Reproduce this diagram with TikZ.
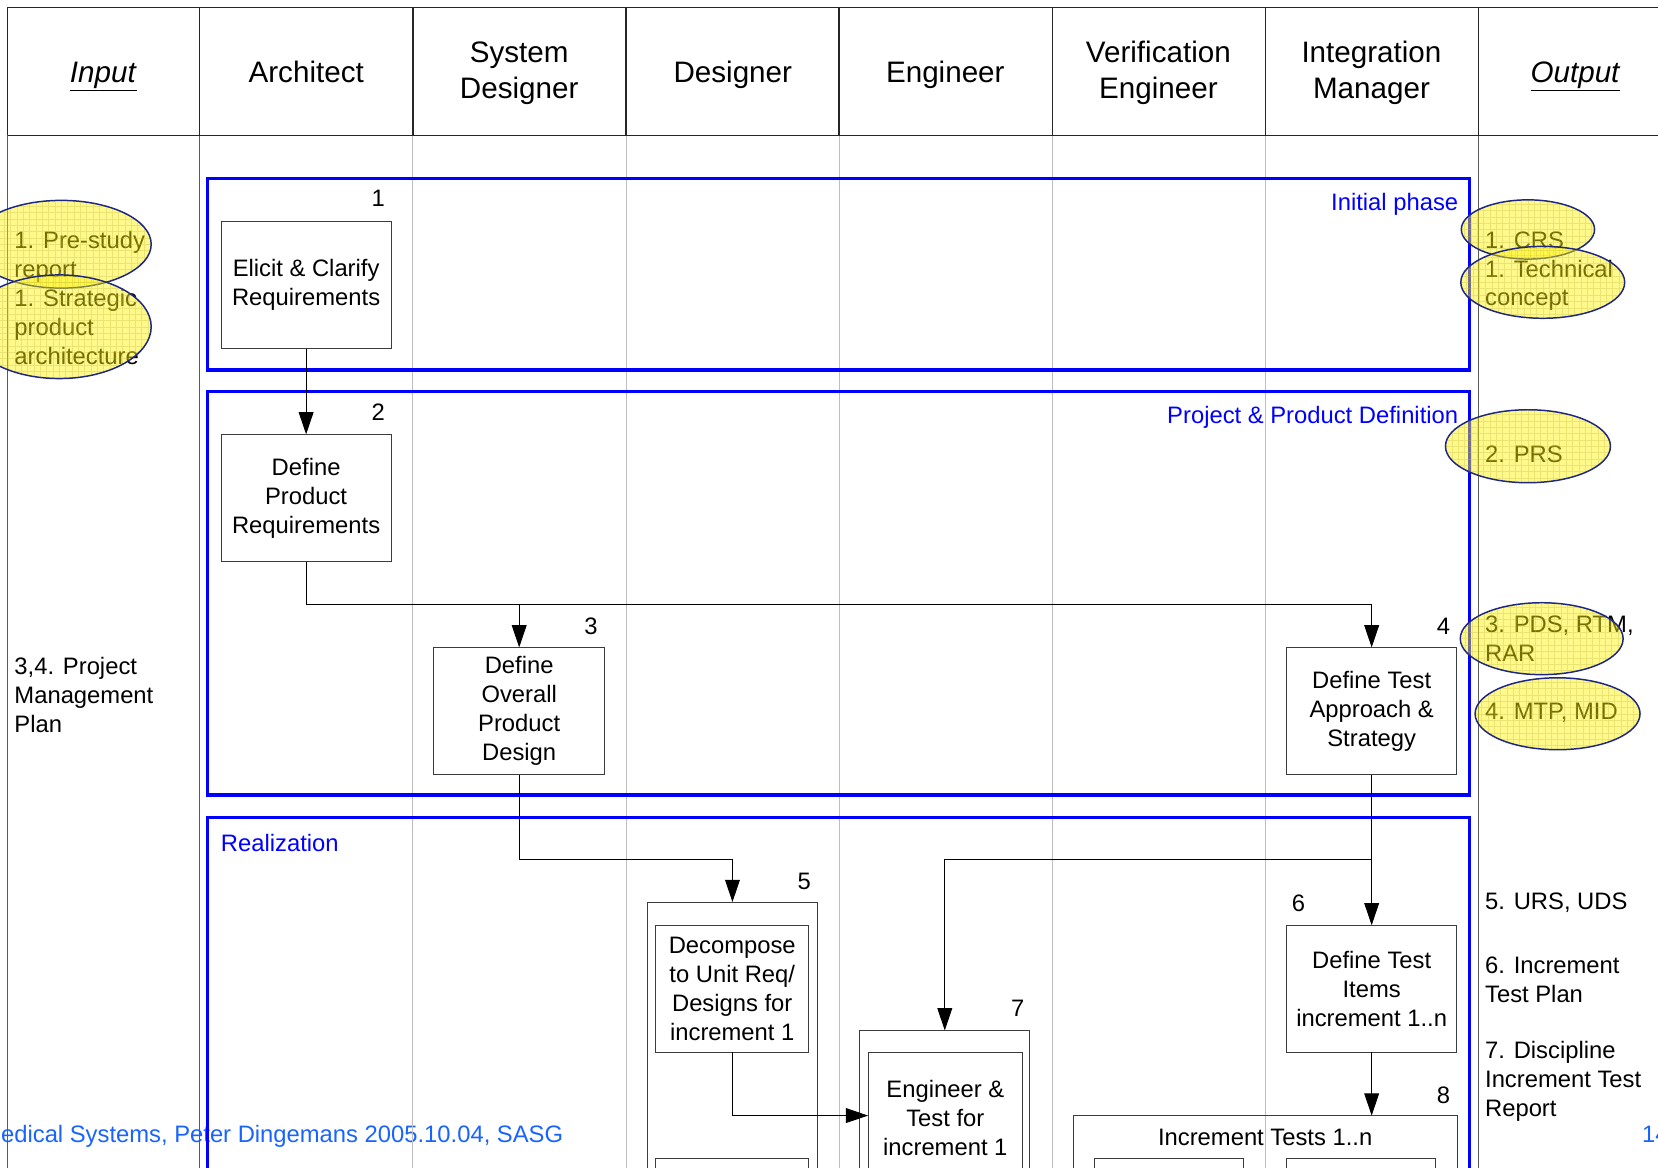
\documentclass[tikz,border=0pt]{standalone}
\usepackage{fontspec}
\setmainfont{Liberation Sans}
\usetikzlibrary{arrows.meta,shapes.geometric}
\definecolor{navy}{RGB}{30,40,130}
\definecolor{footblue}{RGB}{25,100,255}
\definecolor{boxline}{RGB}{60,60,60}
\definecolor{lgrid}{RGB}{190,190,190}
\definecolor{dgrid}{RGB}{90,90,90}
\begin{document}
\begin{tikzpicture}[x=1pt,y=-1pt,
  every node/.style={inner sep=0pt, outer sep=0pt},
  body/.style={font=\fontsize{22.5}{27.3}\selectfont},
  hdr/.style={font=\fontsize{28}{34.6}\selectfont, align=center, anchor=base},
  procbox/.style={draw=boxline, line width=0.9pt, body, align=center, minimum width=161pt, minimum height=120.5pt},
  plainbox/.style={draw=boxline, line width=0.9pt, anchor=north},
  frameline/.style={draw=blue, line width=3.2pt},
  phaselbl/.style={body, text=blue},
  leftnote/.style={body, align=left, anchor=base west},
  arr/.style={line width=0.9pt, -{Triangle[length=21pt,width=14pt]}},
  oval/.style={ellipse, draw=navy, line width=1.4pt, fill=yellow, fill opacity=0.45,
    path picture={\draw[yellow!70!black, line width=0.4pt, draw opacity=0.3, step=6pt]
      (path picture bounding box.south west) grid (path picture bounding box.north east);}},
  foot/.style={font=\fontsize{22.5}{27}\selectfont, text=footblue, anchor=base east}
]
\useasboundingbox (0,0) rectangle (1568,1104);
\clip (0,0) rectangle (1568,1104);

% footer
\node[foot] (foot) at (532.6,1080) {edical Systems, Peter Dingemans 2005.10.04, SASG};
\node[foot, anchor=base west] (page) at (1553,1080) {14};

% swimlane grid
\foreach \x in {390.5,592,793.5,995,1196.5}
  \draw[lgrid, line width=0.8pt] (\x,128) -- (\x,1110);
\foreach \x in {7.3,189,1398}
  \draw[dgrid, line width=1pt] (\x,128) -- (\x,1110);
\draw[line width=1.1pt, black!85] (7.3,7) -- (1570,7);
\draw[line width=1.1pt, black!85] (7.3,128) -- (1570,128);
\foreach \x in {7.3,189,390.5,592,793.5,995,1196.5,1398}
  \draw[line width=1.1pt, black!85] (\x,7) -- (\x,128);

% header
\node[hdr] (hIn) at (97.8,78) {\underline{\textit{Input}}};
\node[hdr] (hArch) at (289.6,78) {Architect};
\node[hdr] (hSD) at (491,93.5) {System\\Designer};
\node[hdr] (hDes) at (693,78) {Designer};
\node[hdr] (hEng) at (894,78) {Engineer};
\node[hdr] (hVE) at (1095.5,93.5) {Verification\\Engineer};
\node[hdr] (hIM) at (1297,93.5) {Integration\\Manager};
\node[hdr] (hOut) at (1490,78) {\underline{\textit{Output}}};

% phase frames
\draw[frameline] (196.5,168.6) rectangle (1390,350);
\draw[frameline] (196.5,370) rectangle (1390,752);
\draw[frameline] (196.5,1120) -- (196.5,773) -- (1390,773) -- (1390,1120);
\node[phaselbl, anchor=east] (pInit) at (1379,193) {Initial phase};
\node[phaselbl, anchor=east] (pDef) at (1379,395) {Project \& Product Definition};
\node[phaselbl, anchor=west] (pReal) at (209,797.5) {Realization};

% process boxes
\node[procbox] (b1) at (289.5,269.5) {Elicit \& Clarify\\Requirements};
\node[procbox] (b2) at (289.5,471) {Define\\Product\\Requirements};
\node[procbox, minimum width=162pt] (b3) at (491,672.5) {Define\\Overall\\Product\\Design};
\node[procbox] (b4) at (1297.2,672.5) {Define Test\\Approach \&\\Strategy};
\node[plainbox, minimum width=161.5pt, minimum height=300pt] (b5o) at (692.7,853) {};
\node[procbox, minimum width=145pt, minimum height=120pt] (b5i) at (692.5,935) {Decompose\\to Unit Req/\\Designs for\\increment 1};
\node[plainbox, minimum width=145pt, minimum height=100pt] (b5j) at (692.5,1095.5) {};
\node[procbox, minimum height=120pt] (b6) at (1297.2,935) {Define Test\\Items\\increment 1..n};
\node[plainbox, minimum width=161pt, minimum height=300pt] (b7o) at (893.5,974.5) {};
\node[plainbox, minimum width=146pt, minimum height=200pt] (b7i) at (894,995) {};
\node[body, align=center] (t7) at (894,1057) {Engineer \&\\Test for\\increment 1};
\node[plainbox, minimum width=363pt, minimum height=200pt] (b8o) at (1196.5,1055) {};
\node[body] (t8) at (1196.5,1075.5) {Increment Tests 1..n};
\node[plainbox, minimum width=141pt, minimum height=100pt] (b8a) at (1105.5,1095.5) {};
\node[plainbox, minimum width=141pt, minimum height=100pt] (b8b) at (1287,1095.5) {};

% step numbers
\node[body] (n1) at (357.6,188) {1};
\node[body] (n2) at (357.6,390) {2};
\node[body] (n3) at (559,592) {3};
\node[body] (n4) at (1365,592.5) {4};
\node[body] (n5) at (760.5,834) {5};
\node[body] (n6) at (1228,854) {6};
\node[body] (n7) at (962.5,954) {7};
\node[body] (n8) at (1365,1035.5) {8};

% connectors
\draw[arr] (b1.south) -- (b2.north);
\draw[arr] (b2.south) -- ++(0,40.5) -| (b3.north);
\draw[arr] (b2.south) -- ++(0,40.5) -| (b4.north);
\draw[arr] (b3.south) -- ++(0,80.5) -| (b5o.north);
\draw[arr] (b4.south) -- (b6.north);
\draw[arr] (b4.south) -- ++(0,80.5) -| (b7o.north);
\draw[arr] (b5i.south) |- (b7i.west |- b8o.north);
\draw[arr] (b6.south) -- (b6.south |- b8o.north);

% input / output notes (base = baseline of last line)
\node[leftnote] (inPMP) at (13.7,692.6) {3,4. Project\\Management\\Plan};
\node[leftnote] (o5) at (1404.5,860) {5. URS, UDS};
\node[leftnote] (o6) at (1404.5,948.3) {6. Increment\\Test Plan};
\node[leftnote] (o7) at (1404.5,1055.6) {7. Discipline\\Increment Test\\Report};

% highlighted documents (text under yellow ovals)
\node[leftnote] (x1) at (13.7,262.3) {1. Pre-study\\report};
\node[oval, minimum width=170pt, minimum height=83pt] (e1) at (58,231) {};
\node[leftnote] (x2) at (13.7,344.6) {1. Strategic\\product\\architecture};
\node[oval, minimum width=174pt, minimum height=98pt] (e2) at (56,309) {};
\node[leftnote] (x3) at (1404.5,235) {1. CRS};
\node[oval, minimum width=126pt, minimum height=56pt] (e3) at (1445,217) {};
\node[leftnote] (x4) at (1404.5,289.3) {1. Technical\\concept};
\node[oval, minimum width=155pt, minimum height=68pt] (e4) at (1459,267) {};
\node[leftnote] (x5) at (1404.5,437) {2. PRS};
\node[oval, minimum width=156pt, minimum height=69pt] (e5) at (1445,422) {};
\node[leftnote] (x6) at (1404.5,625.9) {3. PDS, RTM,\\RAR};
\node[oval, minimum width=154pt, minimum height=68pt] (e6) at (1458,604) {};
\node[leftnote] (x7) at (1404.5,680) {4. MTP, MID};
\node[oval, minimum width=156pt, minimum height=68pt] (e7) at (1473,675) {};
\end{tikzpicture}
\end{document}
